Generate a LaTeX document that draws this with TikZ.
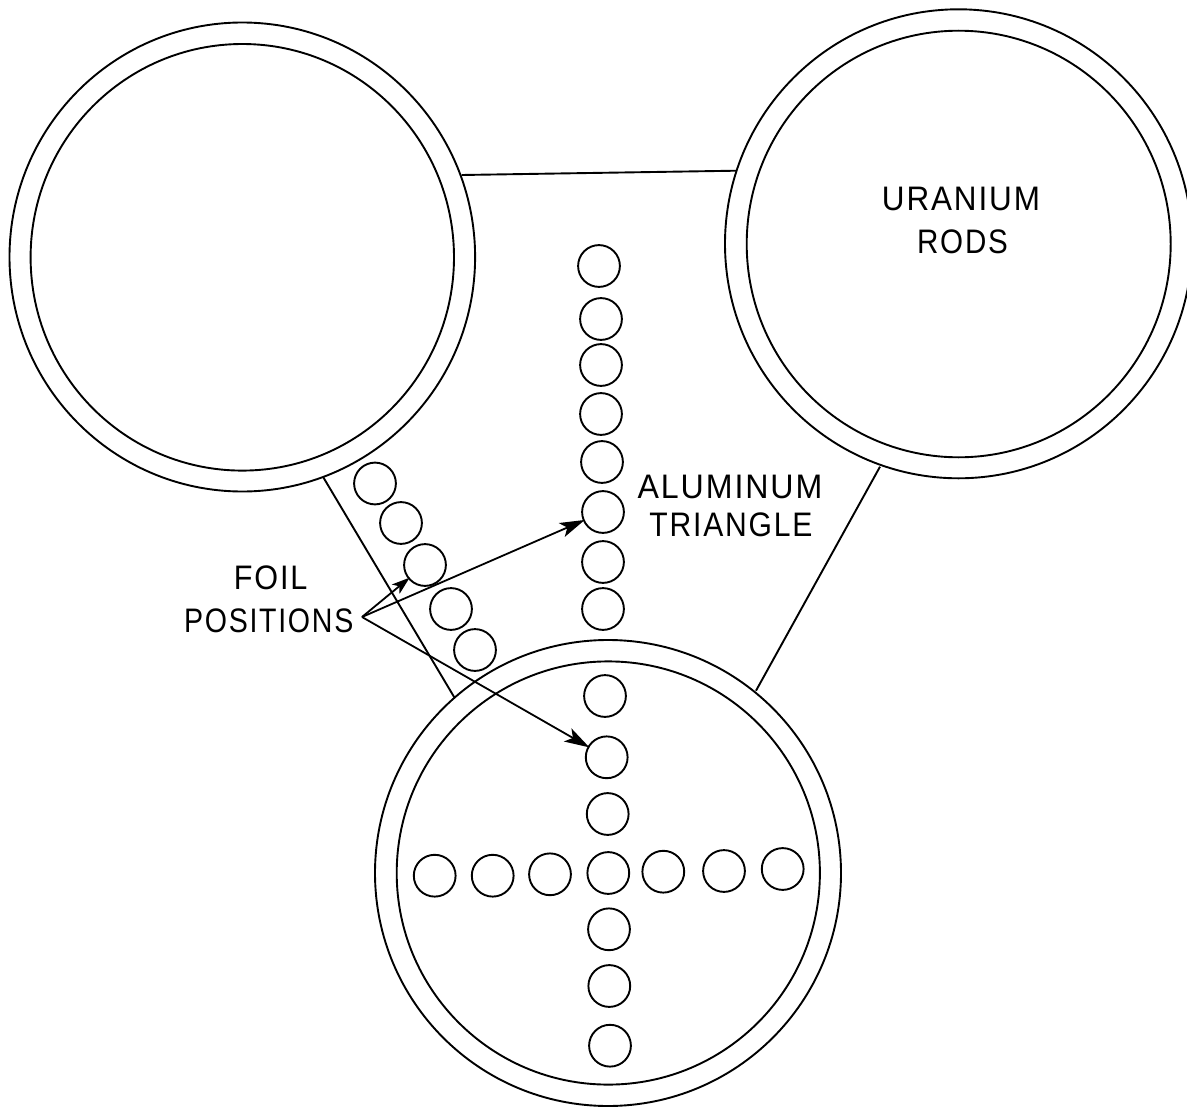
\documentclass[tikz,border=0pt]{standalone}
\usepackage{fontspec}
\setmainfont[LetterSpace=6]{Liberation Sans}
\usetikzlibrary{arrows.meta}
\tikzset{
 ln/.style={draw=black,line width=1.9pt},
 foil/.style={circle,draw=black,line width=1.9pt,minimum size=41.8pt,inner sep=0pt,outer sep=0pt},
 lbl/.style={font=\fontsize{34}{34}\selectfont,inner sep=0pt,text=black,transform shape},
 arr/.style={draw=black,line width=1.8pt,-{Stealth[length=25pt,width=15pt,inset=6pt]},shorten >=-1pt},
 arrs/.style={draw=black,line width=1.8pt,-{Stealth[length=18pt,width=12pt,inset=4.5pt]},shorten >=-1pt}
}
\begin{document}
\begin{tikzpicture}[x=1pt,y=-1pt]
\useasboundingbox (0,0) rectangle (1187,1108);
\fill[white] (0,0) rectangle (1187,1108);
% outer circles
\draw[ln] (242.3,257) ellipse [x radius=232.8,y radius=234.5];
\draw[ln] (242.3,257.3) ellipse [x radius=211.7,y radius=213.3];
\draw[ln] (958.5,243.8) ellipse [x radius=233.5,y radius=234.5];
\draw[ln] (958.7,244) ellipse [x radius=212,y radius=213.3];
\draw[ln] (608,873) circle (233);
\draw[ln] (608.3,873) circle (211.6);
% triangle edges
\coordinate (t1) at (461.7,175); \coordinate (t2) at (736.7,170.7);
\coordinate (t3) at (323.3,477.3); \coordinate (t4) at (454.3,697.3);
\coordinate (t5) at (880,466.7); \coordinate (t6) at (756,690.7);
\draw[ln] (t1)--(t2);
\draw[ln] (t3)--(t4);
\draw[ln] (t5)--(t6);
% column foils
\node[foil] (a1) at (599,266) {};
\node[foil] (a2) at (601,319) {};
\node[foil] (a3) at (601,365) {};
\node[foil] (a4) at (601,414) {};
\node[foil] (a5) at (602,462) {};
\node[foil] (a6) at (603,512) {};
\node[foil] (a7) at (603,562) {};
\node[foil] (a8) at (603,609) {};
% diagonal foils
\node[foil] (d1) at (375,483.5) {};
\node[foil] (d2) at (401,523) {};
\node[foil] (d3) at (425,565) {};
\node[foil] (d4) at (451,609) {};
\node[foil] (d5) at (475,650) {};
% cross
\node[foil] (c1) at (605,696) {};
\node[foil] (c2) at (606.7,757.3) {};
\node[foil] (c3) at (607.7,814) {};
\node[foil] (c4) at (608.3,873) {};
\node[foil] (c5) at (609,929.3) {};
\node[foil] (c6) at (609.3,986) {};
\node[foil] (c7) at (610,1045.7) {};
\node[foil] (h1) at (434.7,875.7) {};
\node[foil] (h2) at (492.7,875.7) {};
\node[foil] (h3) at (550,874.3) {};
\node[foil] (h4) at (663.3,871.7) {};
\node[foil] (h5) at (724,871) {};
\node[foil] (h6) at (782.7,869) {};
% labels
\node[lbl,xscale=.925] (u) at (961,199) {URANIUM};
\node[lbl,xscale=.87] (r) at (962.5,242) {RODS};
\node[lbl,xscale=.945] (al) at (730,487) {ALUMINUM};
\node[lbl,xscale=.885] (tr) at (731,525) {TRIANGLE};
\node[lbl,xscale=.9] (fo) at (270.7,578) {FOIL};
\node[lbl,xscale=.84] (po) at (268.7,620.7) {POSITIONS};
\coordinate (o) at (362,617);
\draw[arrs] (o)--(d3);
\draw[arr] (o)--(a6);
\draw[arr] (o)--(c2);
\end{tikzpicture}
\end{document}
